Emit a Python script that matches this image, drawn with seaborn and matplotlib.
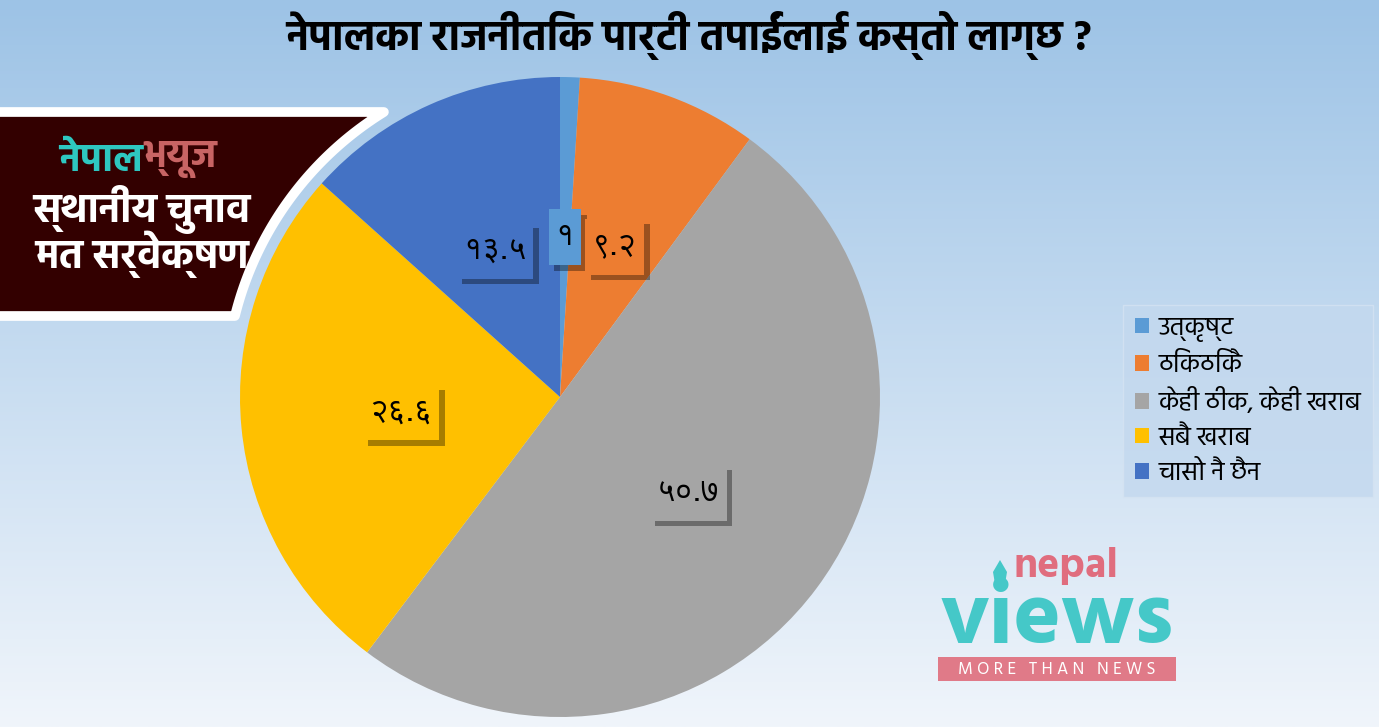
"""
Nepal Views local election survey: opinion on political parties (pie).
"""

import os

import matplotlib.pyplot as plt
import matplotlib.patheffects as pe
import numpy as np
import seaborn as sns
from matplotlib import font_manager
from matplotlib.ft2font import FT2Font
from matplotlib.patches import Polygon, Rectangle
from matplotlib.transforms import IdentityTransform

categories = ["उत्कृष्ट", "ठिकठिकै", "केही ठीक, केही खराब", "सबै खराब", "चासो नै छैन"]
values = [1, 9.2, 50.7, 26.6, 13.5]
value_labels = ["१", "९.२", "५०.७", "२६.६", "१३.५"]
colors = ["#5B9BD5", "#ED7D31", "#A5A5A5", "#FFC000", "#4472C4"]

title = "नेपालका राजनीतिक पार्टी तपाईंलाई कस्तो लाग्छ ?"
banner_top = ["नेपाल", "भ्यूज"]
banner_lines = ["स्थानीय चुनाव", "मत सर्वेक्षण"]


def register(prefixes):
    """Register font files whose name starts with one of prefixes; return family names."""
    paths = sorted(font_manager.findSystemFonts())
    families = []
    for prefix in prefixes:
        hits = [p for p in paths if os.path.basename(p).startswith(prefix)]
        for p in hits:
            try:
                font_manager.fontManager.addfont(p)
            except Exception:
                continue
        if hits:
            families.append(font_manager.FontProperties(fname=hits[0]).get_name())
    if not families:
        for p in paths:
            try:
                if 0x0928 in FT2Font(p).get_charmap():
                    font_manager.fontManager.addfont(p)
                    families.append(font_manager.FontProperties(fname=p).get_name())
                    break
            except Exception:
                continue
    return families


sns.set_style("white")
main_fam = register(["Hind-", "Mukta-", "Poppins-", "NotoSansDevanagari"])[:1]
digit_fam = register(["FreeSans.ttf", "AnnapurnaSIL-Regular", "NotoSansDevanagari"])[:1]
plt.rcParams["font.family"] = main_fam + ["DejaVu Sans"]
plt.rcParams["text.color"] = "black"

W, H = 1379, 727
fig = plt.figure(figsize=(W / 100, H / 100), dpi=100)

# background gradient
bg = fig.add_axes([0, 0, 1, 1], zorder=0)
top = np.array([157, 195, 230]) / 255
bot = np.array([240, 245, 251]) / 255
t = np.linspace(0, 1, 256)[:, None, None]
grad = np.repeat(top * (1 - t) + bot * t, 2, axis=1)
bg.imshow(grad, aspect="auto", extent=(0, W, H, 0))
bg.set_xlim(0, W)
bg.set_ylim(H, 0)
bg.axis("off")

# pie
cx, cy, R = 560, 397, 320
ax = fig.add_axes([(cx - R) / W, (H - cy - R) / H, 2 * R / W, 2 * R / H], zorder=1)
it = iter(value_labels)
wedges, _, autotexts = ax.pie(
    values,
    colors=colors,
    startangle=90,
    counterclock=False,
    autopct=lambda p: next(it),
    pctdistance=0.5,
    wedgeprops={"linewidth": 0},
    textprops={"fontsize": 23, "color": "black",
               "family": digit_fam + main_fam + ["DejaVu Sans"]},
)
ax.set_xlim(-1, 1)
ax.set_ylim(-1, 1)
ax.set_aspect("auto")
ax.axis("off")

# label boxes sized from the rendered text (narrow sideways, tall vertically)
fig.canvas.draw()
renderer = fig.canvas.get_renderer()
for txt, c in zip(autotexts, colors):
    bb = txt.get_window_extent(renderer)
    px, py = 7, 13
    box = Rectangle((bb.x0 - px, bb.y0 - py), bb.width + 2 * px, bb.height + 2 * py,
                    transform=IdentityTransform(), facecolor=c, edgecolor="none",
                    zorder=2)
    box.set_path_effects(
        [pe.withSimplePatchShadow(offset=(4, -4), shadow_rgbFace="black", alpha=0.35),
         pe.Normal()]
    )
    ax.add_patch(box)
    txt.set_zorder(3)

# overlay for banner / logo
ov = fig.add_axes([0, 0, 1, 1], zorder=2)
ov.set_xlim(0, W)
ov.set_ylim(H, 0)
ov.axis("off")
ov.patch.set_alpha(0)

Rb = 335
ys = np.linspace(112, 316, 60)
xs = cx - np.sqrt(Rb**2 - (cy - ys) ** 2)
pts = [(-20, 112)] + list(zip(xs, ys)) + [(-20, 316)]
ov.add_patch(Polygon(pts, closed=True, facecolor="#330000", edgecolor="white",
                     linewidth=7, joinstyle="round"))
ov.text(143, 160, banner_top[0], color="#2EC7C0", fontsize=28, fontweight="bold",
        ha="right", va="center")
ov.text(143, 160, banner_top[1], color="#C86464", fontsize=28, fontweight="bold",
        ha="left", va="center")
ov.text(142, 210, banner_lines[0], color="white", fontsize=29, fontweight="bold",
        ha="center", va="center")
ov.text(142, 254, banner_lines[1], color="white", fontsize=29, fontweight="bold",
        ha="center", va="center")

# nepal views logo
ov.add_patch(Polygon([(1000, 560), (1007, 572), (1004, 590), (996, 590), (993, 572)],
                     closed=True, facecolor="#45C8C8", edgecolor="none"))
ov.text(1066, 566, "nepal", color="#E06D7E", fontsize=30, fontweight="bold",
        ha="center", va="center")
ov.text(1057, 620, "views", color="#45C8C8", fontsize=65, fontweight="bold",
        ha="center", va="center")
ov.add_patch(Rectangle((938, 657), 238, 24, facecolor="#E07A88", edgecolor="none"))
ov.text(1057, 670, "M O R E   T H A N   N E W S", color="white", fontsize=12.5,
        ha="center", va="center")

# title
fig.text(689 / W, 1 - 36 / H, title, fontsize=30, fontweight="bold",
         ha="center", va="center", zorder=3)

# legend
leg = fig.legend(
    wedges, categories,
    loc="upper left", bbox_to_anchor=(1123 / W, 1 - 305 / H),
    borderaxespad=0, fontsize=19, frameon=True, fancybox=False,
    handlelength=0.55, handleheight=0.55, handletextpad=0.35,
    labelspacing=0.42, borderpad=0.45,
)
leg.get_frame().set_facecolor("#C3D8EE")
leg.get_frame().set_edgecolor("#D5E3F2")
leg.set_zorder(3)

fig.savefig("out.png", dpi=100)
